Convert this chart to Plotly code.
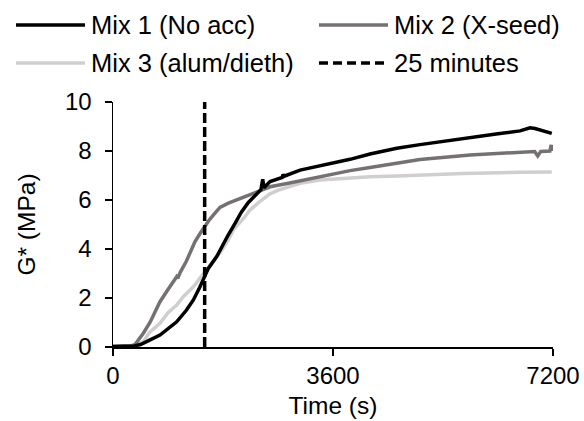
import plotly.graph_objects as go

# ---- data ----
mix1_t = [0, 200, 350, 450, 500, 600, 769, 879, 1042, 1200, 1315, 1424, 1506, 1560, 1697, 1778,
          1880, 1997, 2100, 2215, 2330, 2420, 2450, 2470, 2570, 2700, 2770, 2782, 2800, 3061, 3388,
          3879, 4206, 4643, 5024, 5733, 5843, 6300, 6661, 6824, 6906, 7000, 7100, 7180]
mix1_g = [0.02, 0.02, 0.04, 0.10, 0.15, 0.28, 0.49, 0.69, 1.03, 1.50, 1.92, 2.46, 2.87, 3.21, 3.69, 4.09,
          4.55, 5.05, 5.50, 5.90, 6.20, 6.42, 6.85, 6.50, 6.75, 6.88, 6.92, 7.05, 6.97, 7.22, 7.40,
          7.66, 7.88, 8.11, 8.26, 8.52, 8.55, 8.70, 8.82, 8.95, 8.92, 8.85, 8.78, 8.72]

mix2_t = [0, 200, 300, 360, 420, 496, 605, 769, 900, 1000, 1042, 1060, 1100, 1200, 1315, 1342,
          1430, 1500, 1580, 1669, 1750, 1888, 2000, 2160, 2433, 2570, 2870, 3252, 3388, 3879,
          4206, 4643, 5024, 5843, 6661, 6900, 6950, 7000, 7150, 7170, 7180]
mix2_g = [0.02, 0.03, 0.05, 0.10, 0.30, 0.56, 1.00, 1.85, 2.35, 2.70, 2.87, 2.80, 3.05, 3.50, 4.09, 4.30,
          4.65, 4.91, 5.20, 5.46, 5.70, 5.87, 5.98, 6.13, 6.41, 6.54, 6.68, 6.88, 6.95, 7.20,
          7.33, 7.50, 7.65, 7.84, 7.97, 7.98, 7.80, 7.98, 8.00, 8.25, 8.00]

mix3_t = [0, 200, 300, 400, 496, 605, 769, 900, 1042, 1150, 1315, 1420, 1506, 1580, 1669, 1780,
          1888, 1970, 2160, 2242, 2433, 2570, 2706, 3061, 3388, 3879, 4206, 4643, 5024, 5733,
          6661, 7180]
mix3_g = [0.00, 0.01, 0.03, 0.10, 0.22, 0.62, 0.97, 1.40, 1.71, 2.05, 2.46, 2.80, 3.07, 3.30, 3.55, 3.95,
          4.37, 4.78, 5.32, 5.59, 6.00, 6.25, 6.40, 6.68, 6.82, 6.90, 6.95, 6.98, 7.02, 7.08,
          7.13, 7.14]

marker_t = [1500, 1500]
marker_g = [0, 10]

x_ticks = [0, 3600, 7200]
y_ticks = [0, 2, 4, 6, 8, 10]

names = ["Mix 1 (No acc)", "Mix 2 (X-seed)", "Mix 3 (alum/dieth)", "25 minutes"]
colors = ["#000000", "#767171", "#d0cece", "#000000"]

FONT = "Liberation Sans, Arial, sans-serif"
FS_TICK = 24
FS_TITLE = 24.5
FS_LEG = 25.5

fig = go.Figure()
fig.add_trace(go.Scatter(x=mix3_t, y=mix3_g, mode="lines", name=names[2],
                         line=dict(color=colors[2], width=3.5), showlegend=False))
fig.add_trace(go.Scatter(x=mix2_t, y=mix2_g, mode="lines", name=names[1],
                         line=dict(color=colors[1], width=3.5), showlegend=False))
fig.add_trace(go.Scatter(x=mix1_t, y=mix1_g, mode="lines", name=names[0],
                         line=dict(color=colors[0], width=3.5), showlegend=False))
fig.add_trace(go.Scatter(x=marker_t, y=marker_g, mode="lines", name=names[3],
                         line=dict(color=colors[3], width=3.5, dash="10px,4px"), showlegend=False))

# ---- layout geometry (body margin removed via post_script) ----
W, H = 584, 421
L, T = 113, 102
pw, ph = 440, 245
R = W - L - pw
B = H - T - ph

def px(x):  # page pixel -> paper x
    return (x - L) / pw

def py(y):  # page pixel -> paper y
    return (T + ph - y) / ph

legend_items = [
    (names[0], colors[0], "solid", 16, 85, 92, 25),
    (names[1], colors[1], "solid", 319, 388, 395, 25),
    (names[2], colors[2], "solid", 16, 85, 92, 63),
    (names[3], colors[3], "9px,5px", 319, 388, 395, 63),
]
for name, col, dash, x0, x1, xt, yy in legend_items:
    fig.add_shape(type="line", xref="paper", yref="paper",
                  x0=px(x0), x1=px(x1), y0=py(yy), y1=py(yy),
                  line=dict(color=col, width=3.5, dash=dash))
    fig.add_annotation(xref="paper", yref="paper", x=px(xt - 2), y=py(yy),
                       text=name, showarrow=False, xanchor="left", yanchor="middle",
                       borderpad=0,
                       font=dict(family=FONT, size=FS_LEG, color="#000000"))

fig.update_layout(
    width=W, height=H,
    margin=dict(l=L, r=R, t=T, b=B, autoexpand=False),
    paper_bgcolor="white", plot_bgcolor="white",
    font=dict(family=FONT, size=FS_TICK, color="#000000"),
    showlegend=False,
    hovermode=False,
    xaxis=dict(range=[0, 7200], tickvals=x_ticks, ticktext=[str(v) for v in x_ticks],
               ticks="outside", ticklen=7, tickwidth=1.5, tickcolor="black",
               ticklabelstandoff=0, ticklabeloverflow="allow", automargin=False,
               showline=True, linecolor="black", linewidth=1.5,
               showgrid=False, zeroline=False,
               title=dict(text="Time (s)", standoff=8, font=dict(size=FS_TITLE))),
    yaxis=dict(range=[0, 10], tickvals=y_ticks,
               ticks="outside", ticklen=7, tickwidth=1.5, tickcolor="black",
               ticklabelstandoff=8, ticklabeloverflow="allow", automargin=False,
               showline=True, linecolor="black", linewidth=1.5,
               showgrid=False, zeroline=False,
               title=dict(text="G* (MPa)", standoff=22, font=dict(size=FS_TITLE))),
)

fig.write_html(
    "out.html",
    config={"displayModeBar": False, "staticPlot": True},
    post_script="document.body.style.margin='0';document.body.style.overflow='hidden';",
)
